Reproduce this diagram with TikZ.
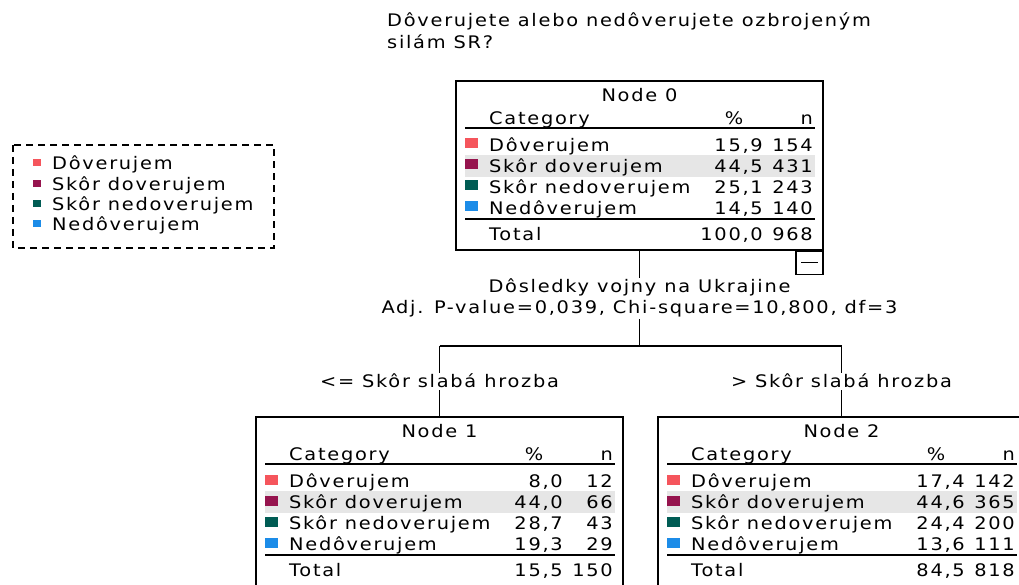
\documentclass[tikz,border=0pt]{standalone}
\usepackage{fontspec}
\setmainfont{DejaVu Sans}[FakeStretch=1.12,LetterSpace=10]
\usetikzlibrary{calc}

\definecolor{catDover}{RGB}{245,85,92}
\definecolor{catSkorDover}{RGB}{150,20,78}
\definecolor{catSkorNedover}{RGB}{0,92,84}
\definecolor{catNedover}{RGB}{28,140,232}
\definecolor{rowgrey}{RGB}{230,230,230}

\tikzset{
  nodebox/.style={draw,line width=1.3pt,minimum width=367pt,minimum height=169pt,inner sep=0pt},
  minusbox/.style={draw,line width=1.3pt,minimum width=27pt,minimum height=23pt,inner sep=0pt},
  cell/.style={inner sep=0pt,text height=16pt,text depth=3pt},
  rule/.style={line width=1.5pt},
  edge/.style={line width=1.3pt},
  splitlabel/.style={fill=white,inner sep=1.5pt,align=center},
  legendbox/.style={line width=1.3pt,dash pattern=on 7pt off 5pt},
}

\newcommand{\catlist}{Dôverujem/catDover,Skôr doverujem/catSkorDover,Skôr nedoverujem/catSkorNedover,Nedôverujem/catNedover}

% one tree box: name, top-left corner, title, pct/n per row (last one = total)
\newcommand{\dtnode}[4]{%
  \begin{scope}[shift={(#2)}]
    \fill[rowgrey] (9,74) rectangle (359,96);
    \node[nodebox] (#1) at (183.5,84.5) {};
    \node[cell] (#1-title) at (183.5,14) {#3};
    \node[cell,anchor=west] (#1-cat) at (33,37) {Category};
    \node[cell] (#1-pct) at (278,37) {\%};
    \node[cell,anchor=east] (#1-n) at (357,37) {n};
    \draw[rule] (9,47) -- (359,47);
    \draw[rule] (9,138) -- (359,138);
    \foreach \cat/\col [count=\i] in \catlist {
      \fill[\col] (9,{43+21*\i-6.5}) rectangle (22,{43+21*\i+3.5});
      \node[cell,anchor=west] at (33,{43+21*\i}) {\cat};
    }
    \node[cell,anchor=west] (#1-total) at (33,153) {Total};
    \foreach \p/\n [count=\i] in {#4} {
      \node[cell,anchor=east] at (307,{43+21*\i+5*(\i>4)}) {\p};
      \node[cell,anchor=east] at (357,{43+21*\i+5*(\i>4)}) {\n};
    }
  \end{scope}}

\begin{document}
\begin{tikzpicture}[x=1pt,y=-1pt,font=\fontsize{17.3pt}{21pt}\selectfont]
\fill[white] (0,0) rectangle (1019,585);
\useasboundingbox (0,0) rectangle (1019,585);

% question
\node[cell,anchor=west] (title) at (387,20) {Dôverujete alebo nedôverujete ozbrojeným};
\node[cell,anchor=west] (title2) at (387,42) {silám SR?};

% legend
\draw[legendbox] (13,145) rectangle (274,248);
\foreach \cat/\col [count=\i] in \catlist {
  \fill[\col] (33,{143+20.3*\i-4}) rectangle (41,{143+20.3*\i+3});
  \node[cell,anchor=west] (legend-\i) at (52,{143+20.3*\i}) {\cat};
}

% tree boxes
\dtnode{n0}{456,81}{Node 0}{{15,9}/154,{44,5}/431,{25,1}/243,{14,5}/140,{100,0}/968}
\dtnode{n1}{256,417}{Node 1}{{8,0}/12,{44,0}/66,{28,7}/43,{19,3}/29,{15,5}/150}
\dtnode{n2}{658,417}{Node 2}{{17,4}/142,{44,6}/365,{24,4}/200,{13,6}/111,{84,5}/818}

\node[minusbox,anchor=north east] (n0-toggle) at (n0.south east) {};
\draw[edge] ([xshift=6pt]n0-toggle.west) -- ([xshift=-6pt]n0-toggle.east);

% branches
\coordinate (split) at (n0.south |- 0,346);
\coordinate (splitL) at (n1.north |- split);
\coordinate (splitR) at (n2.north |- split);
\draw[edge] (n0.south) -- (split);
\draw[edge] (splitL) -- (splitR);
\draw[edge] (splitL) -- (n1.north);
\draw[edge] (splitR) -- (n2.north);

\node[splitlabel] (splitvar) at ($(n0.south)!0.5!(split)$) {Dôsledky vojny na Ukrajine\\Adj. P-value=0,039, Chi-square=10,800, df=3};
\node[splitlabel] (cutL) at ($(splitL)!0.5!(n1.north)$) {<= Skôr slabá hrozba};
\node[splitlabel] (cutR) at ($(splitR)!0.5!(n2.north)$) {> Skôr slabá hrozba};
\end{tikzpicture}
\end{document}
